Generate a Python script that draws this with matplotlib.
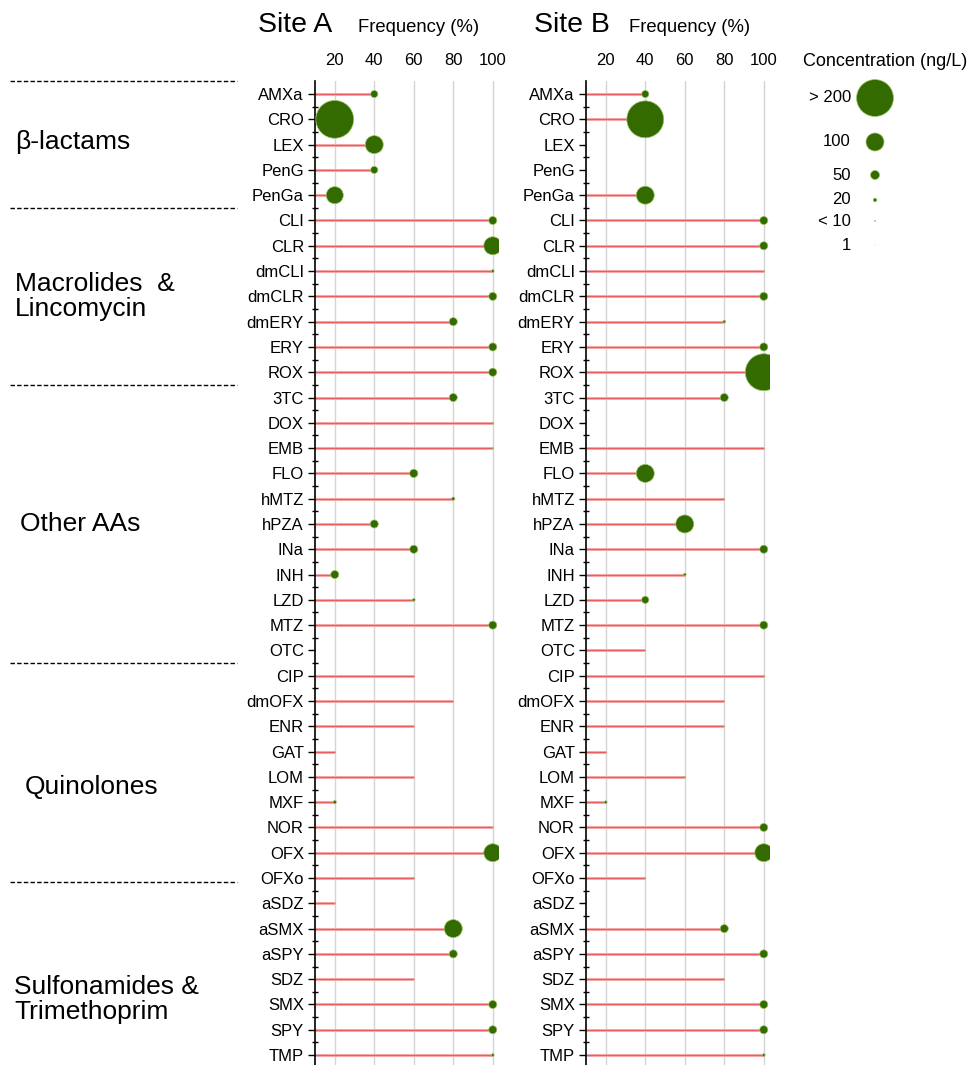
import numpy as np
import matplotlib
matplotlib.use("Agg")
import matplotlib.pyplot as plt
from matplotlib.transforms import blended_transform_factory

plt.rcParams['font.family'] = ['Liberation Sans', 'DejaVu Sans']

# compounds, top to bottom
compounds = ["AMXa", "CRO", "LEX", "PenG", "PenGa",
             "CLI", "CLR", "dmCLI", "dmCLR", "dmERY", "ERY", "ROX",
             "3TC", "DOX", "EMB", "FLO", "hMTZ", "hPZA", "INa", "INH", "LZD", "MTZ", "OTC",
             "CIP", "dmOFX", "ENR", "GAT", "LOM", "MXF", "NOR", "OFX", "OFXo",
             "aSDZ", "aSMX", "aSPY", "SDZ", "SMX", "SPY", "TMP"]

groups = ["\u03b2-lactams", "Macrolides  &\nLincomycin", "Other AAs",
          "Quinolones", "Sulfonamides &\nTrimethoprim"]
group_sizes = [5, 7, 11, 9, 7]

# detection frequency (%)
freq_a = [40, 20, 40, 40, 20,
          100, 100, 100, 100, 80, 100, 100,
          80, 100, 100, 60, 80, 40, 60, 20, 60, 100, 0,
          60, 80, 60, 20, 60, 20, 100, 100, 60,
          20, 80, 80, 60, 100, 100, 100]
freq_b = [40, 40, 0, 0, 40,
          100, 100, 100, 100, 80, 100, 100,
          80, 0, 100, 40, 80, 60, 100, 60, 40, 100, 40,
          100, 80, 80, 20, 60, 20, 100, 100, 40,
          0, 80, 100, 80, 100, 100, 100]

# concentration (ng/L)
conc_a = [40, 210, 100, 40, 95,
          45, 100, 15, 45, 45, 45, 45,
          45, 5, 5, 46, 18, 45, 45, 45, 15, 45, 0,
          1, 1, 1, 1, 1, 18, 5, 100, 5,
          5, 100, 45, 1, 45, 45, 15]
conc_b = [40, 205, 0, 0, 100,
          45, 45, 5, 45, 15, 45, 205,
          45, 0, 1, 100, 5, 100, 45, 15, 40, 45, 1,
          5, 1, 5, 1, 5, 15, 45, 100, 5,
          0, 45, 45, 5, 45, 45, 15]

legend_levels = [205, 100, 50, 20, 5, 1]
legend_labels = ["> 200", "100", "50", "20", "< 10", "1"]

xticks = [20, 40, 60, 80, 100]


def size(c):
    # marker diameter ~ linear in concentration (px), converted to pt^2
    d = 0.18 * np.asarray(c, dtype=float) * 0.72
    return d ** 2


def panel(ax, freq, conc):
    y = np.arange(len(compounds))
    freq = np.asarray(freq, dtype=float)
    conc = np.asarray(conc, dtype=float)
    ax.set_xlim(10, 103)
    ax.set_ylim(len(compounds) - 0.5, -0.5)
    for xv in xticks:
        ax.axvline(xv, color="#d4d4d4", lw=1, zorder=0)
    m = freq > 0
    ax.hlines(y[m], 10, freq[m], color="#f6a8a8", lw=2.2, zorder=1)
    ax.hlines(y[m], 10, freq[m], color="#e65050", lw=0.6, zorder=2)
    ax.scatter(freq[m], y[m], s=size(conc[m]), color="#336b00",
               edgecolors="#9cc46a", linewidths=0.5, zorder=3)
    ax.xaxis.tick_top()
    ax.set_xticks(xticks)
    ax.tick_params(axis="x", length=0, pad=10, labelsize=12)
    ax.set_yticks(y)
    ax.set_yticklabels(compounds)
    ax.set_yticks(np.arange(len(compounds) - 1) + 0.5, minor=True)
    ax.tick_params(axis="y", which="major", length=5, width=1, labelsize=12, pad=3)
    ax.tick_params(axis="y", which="minor", length=4, width=1, direction="inout")
    for s in ["top", "right", "bottom"]:
        ax.spines[s].set_visible(False)
    ax.spines["left"].set_linewidth(1.2)


fig = plt.figure(figsize=(9.71, 10.65), dpi=100)
W, H = 971, 1065
top = 1 - 81.4 / H
bot = 1 - 1067.7 / H
wid = 183.7 / W
axA = fig.add_axes([315 / W, bot, wid, top - bot])
axB = fig.add_axes([586 / W, bot, wid, top - bot])
panel(axA, freq_a, conc_a)
panel(axB, freq_b, conc_b)

for ax, name, dx in [(axA, "Site A", 57), (axB, "Site B", 52)]:
    x0 = ax.get_position().x0
    fig.text(x0 - dx / W, 1 - 25 / H, name, fontsize=20.5, ha="left", va="center")
    fig.text(x0 + 43 / W, 1 - 27 / H, "Frequency (%)", fontsize=13.3, ha="left", va="center")

# group separators and labels
tr = blended_transform_factory(fig.transFigure, axA.transData)
bounds = np.concatenate([[0], np.cumsum(group_sizes)]) - 0.5
bounds[-2] -= 0.35
for b in bounds[:-1]:
    axA.plot([10 / W, 237 / W], [b, b], transform=tr, color="black", lw=1,
             ls=(0, (3.2, 1.6)), clip_on=False)
label_rows = [1.9, 8.0, 17.0, 27.4, 35.8]
label_x = [15, 15, 20, 25, 14]
for g, r, lx in zip(groups, label_rows, label_x):
    axA.text(lx / W, r, g, transform=tr, fontsize=19, ha="left", va="center",
             linespacing=1.05)

# concentration legend
axL = fig.add_axes([0, 0, 1, 1])
axL.set_xlim(0, W)
axL.set_ylim(H, 0)
axL.axis("off")
axL.text(803, 61, "Concentration (ng/L)", fontsize=13, ha="left", va="center")
leg_y = [98, 142, 175, 200, 221, 245]
axL.scatter([875] * len(legend_levels), leg_y, s=size(legend_levels),
            color="#336b00", edgecolors="#9cc46a", linewidths=0.5)
for lab, yy in zip(legend_labels, leg_y):
    axL.text(851, yy, lab, fontsize=12, ha="right", va="center")

fig.savefig("out.png", dpi=100)
